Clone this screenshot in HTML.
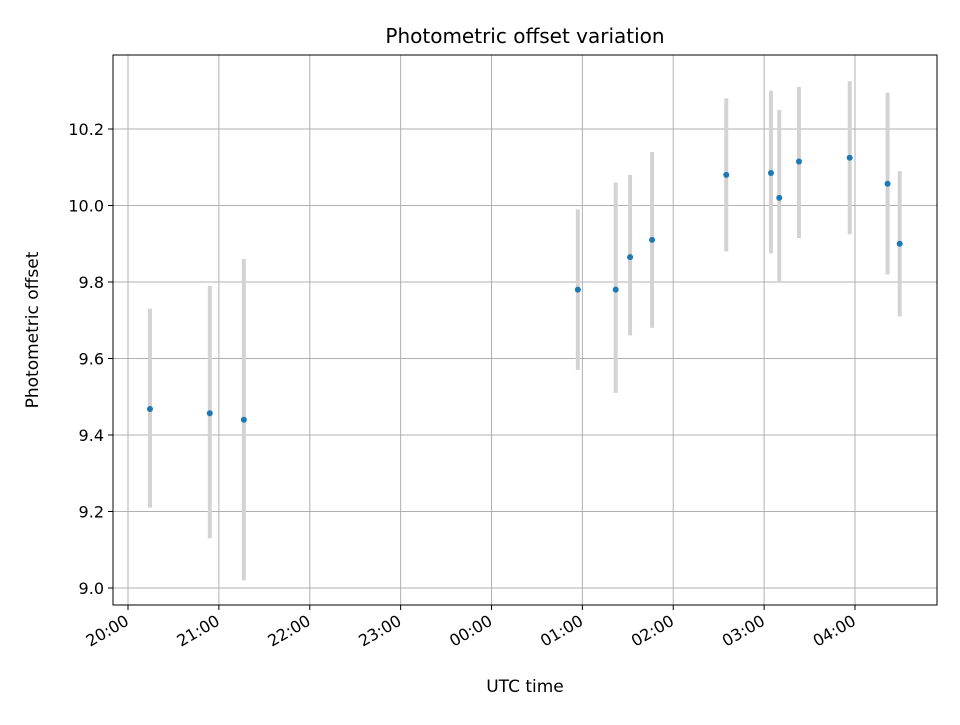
<!DOCTYPE html>
<html><head><meta charset="utf-8"><style>body{margin:0;background:#fff}svg{font-family:"DejaVu Sans","Liberation Sans",sans-serif}</style></head>
<body>
<svg id="chart" width="960" height="720" xmlns="http://www.w3.org/2000/svg">
<rect width="960" height="720" fill="#fff"/>
<g id="grid"></g>
<g id="errs"></g>
<g id="pts"></g>
<rect x="113" y="55" width="824" height="550" fill="none" stroke="#000" stroke-width="1"/>
<g id="axes"></g>
<text x="525" y="43" text-anchor="middle" font-size="20">Photometric offset variation</text>
<text x="525" y="692" text-anchor="middle" font-size="17">UTC time</text>
<text transform="translate(38,330) rotate(-90)" text-anchor="middle" font-size="17">Photometric offset</text>
</svg>
<script>
// minutes since 20:00
const times = [14.5, 54, 76.5, 297, 322, 331.5, 346, 395, 424.5, 430, 443, 476.5, 501.5, 509.5];
const values = [9.468, 9.457, 9.44, 9.78, 9.78, 9.865, 9.91, 10.08, 10.085, 10.02, 10.115, 10.125, 10.057, 9.90];
const lower = [9.21, 9.13, 9.02, 9.57, 9.51, 9.66, 9.68, 9.88, 9.875, 9.80, 9.915, 9.925, 9.82, 9.71];
const upper = [9.73, 9.79, 9.86, 9.99, 10.06, 10.08, 10.14, 10.28, 10.30, 10.25, 10.31, 10.325, 10.295, 10.09];
const xTickLabels = ["20:00","21:00","22:00","23:00","00:00","01:00","02:00","03:00","04:00"];
const yTicks = [9.0, 9.2, 9.4, 9.6, 9.8, 10.0, 10.2];

const NS = "http://www.w3.org/2000/svg";
const X = m => 128 + m * (727 / 480);
const Y = v => 588 - (v - 9.0) * (459 / 1.2);
function mk(parent, tag, attrs){const e=document.createElementNS(NS,tag);for(const k in attrs)e.setAttribute(k,attrs[k]);document.getElementById(parent).appendChild(e);return e;}

xTickLabels.forEach((lab,i)=>{
  const x = X(i*60);
  const g = mk('grid','line',{x1:x,x2:x,y1:55,y2:605,stroke:'#b0b0b0','stroke-width':1});
  
  
  const t = mk('axes','line',{x1:x,x2:x,y1:605,y2:610,stroke:'#000'});
  
  
  const tx = mk('axes','text',{x:x+2,y:624,'text-anchor':'end','font-size':16,transform:`rotate(-30 ${x+2} 624)`});
  tx.textContent = lab;
  
  
});
yTicks.forEach(v=>{
  const y = Y(v);
  const g = mk('grid','line',{x1:113,x2:937,y1:y,y2:y,stroke:'#b0b0b0','stroke-width':1});
  
  
  const t = mk('axes','line',{x1:108,x2:113,y1:y,y2:y,stroke:'#000'});
  
  
  const tx = mk('axes','text',{x:104,y:y+6,'text-anchor':'end','font-size':16});
  tx.textContent = v.toFixed(1);
  
  
});
times.forEach((m,i)=>{
  const x = X(m);
  const e = mk('errs','line',{x1:x,x2:x,y1:Y(upper[i]),y2:Y(lower[i]),stroke:'#d3d3d3','stroke-width':4});
  
  
  const p = mk('pts','circle',{cx:x,cy:Y(values[i]),r:3,fill:'#1f77b4'});
  
  
});
</script>
</body></html>
